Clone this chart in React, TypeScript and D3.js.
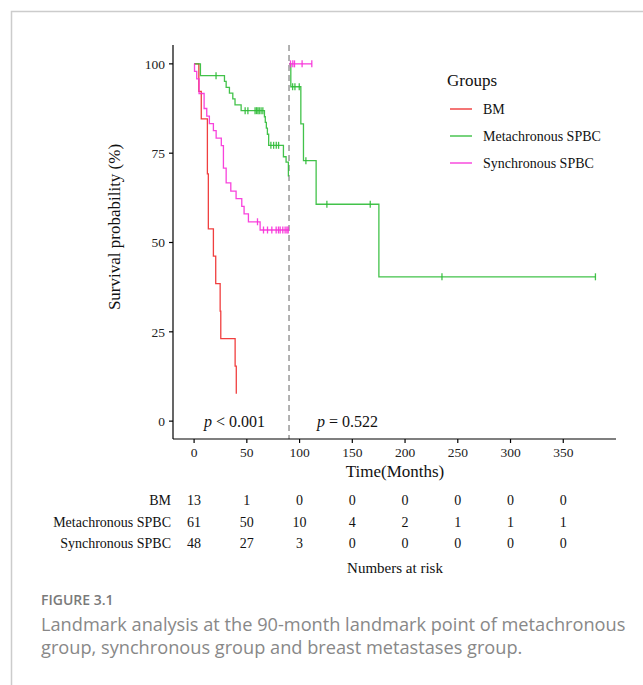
import React from 'react';
import * as d3 from 'd3';

// before the 90 month landmark
const bmTime = [0, 4.5, 6.8, 12.6, 13.5, 18.3, 20.5, 24.7, 25.3, 38.9, 40];
const bmSurv = [100, 92.3, 84.6, 69.2, 53.8, 46.2, 38.5, 30.8, 23.1, 15.4, 7.7];
const bmCens: number[] = [];

const metaTime1 = [0, 6, 28.8, 30.4, 33.5, 36.7, 38.8, 44.6, 66.7, 67.5, 68.5, 69.5, 70.7, 84.7, 87.2, 88, 89.4];
const metaSurv1 = [100, 96.7, 95.1, 93.4, 91.8, 90.2, 88.5, 86.9, 85.2, 83.6, 82.0, 80.3, 77.2, 74.0, 72.5, 72.5, 68.5];
const metaCens1 = [20.8, 48.4, 51, 57.8, 59.2, 60.5, 61.8, 63.5, 65.2, 72.8, 75.4, 77.9, 80.1];

const syncTime1 = [0, 0.4, 2.5, 4.7, 9.5, 12, 14.5, 18.3, 20.9, 25.8, 27.8, 30.4, 34.8, 39.8, 45.2, 47.4, 51.5, 62.6, 90];
const syncSurv1 = [100, 97.9, 95.8, 91.7, 87.5, 85.4, 83.3, 81.3, 79.2, 77.1, 70.8, 66.7, 64.4, 62.3, 60.1, 58.0, 55.8, 53.5, 53.5];
const syncCens1 = [60.1, 65.8, 69.6, 73.7, 77.8, 80, 81.6, 84.1, 86.3, 88, 89.2];

// after the landmark
const metaTime2 = [90, 91.7, 101.2, 103.7, 115.7, 175.2, 380.5];
const metaSurv2 = [100, 93.6, 83.2, 72.9, 60.7, 40.4, 40.4];
const metaCens2 = [93.4, 95.6, 99.7, 106, 125.9, 167, 235, 380.5];

const syncTime2 = [90, 111.6];
const syncSurv2 = [100, 100];
const syncCens2 = [91.4, 93.6, 95.2, 102.4, 111.6];

const groups = ['BM', 'Metachronous SPBC', 'Synchronous SPBC'];
const colors = ['#ee2a2a', '#2dbb36', '#f72fd8'];

const xTicks = [0, 50, 100, 150, 200, 250, 300, 350];
const yTicks = [0, 25, 50, 75, 100];
const riskTimes = [0, 50, 100, 150, 200, 250, 300, 350];
const riskBM = [13, 1, 0, 0, 0, 0, 0, 0];
const riskMeta = [61, 50, 10, 4, 2, 1, 1, 1];
const riskSync = [48, 27, 3, 0, 0, 0, 0, 0];

const serif = '"Liberation Serif", "Times New Roman", serif';
const sans = '"Open Sans", "Noto Sans", sans-serif';

const x = d3.scaleLinear().domain([-20, 400]).range([173, 616]);
const y = d3.scaleLinear().domain([-5, 105]).range([439, 46]);

const line = d3.line<[number, number]>()
  .x(d => x(d[0]))
  .y(d => y(d[1]))
  .curve(d3.curveStepAfter);

const survAt = (times: number[], surv: number[], t: number) => {
  let v = surv[0];
  for (let i = 0; i < times.length; i++) if (times[i] <= t) v = surv[i];
  return v;
};

const curves = [
  { time: bmTime, surv: bmSurv, cens: bmCens, g: 0 },
  { time: metaTime1, surv: metaSurv1, cens: metaCens1, g: 1 },
  { time: syncTime1, surv: syncSurv1, cens: syncCens1, g: 2 },
  { time: metaTime2, surv: metaSurv2, cens: metaCens2, g: 1 },
  { time: syncTime2, surv: syncSurv2, cens: syncCens2, g: 2 },
];

const riskRows = [riskBM, riskMeta, riskSync];
const riskY = [500, 522, 543];
const legendY = [109, 136, 163];

export default function App() {
  return (
    <svg width={643} height={685} style={{ position: 'absolute', left: 0, top: 0, background: '#fff' }}>
      {/* frame */}
      <path d="M11.5,685 V11.5 H643" fill="none" stroke="#cccccc" strokeWidth={1.5} />

      {/* landmark */}
      <line x1={x(90)} x2={x(90)} y1={45} y2={439} stroke="#999" strokeWidth={1.5} strokeDasharray="6,4" />

      {curves.map((c, i) => (
        <g key={i} stroke={colors[c.g]} fill="none" strokeWidth={1.3} strokeOpacity={0.9}>
          <path d={line(c.time.map((t, j) => [t, c.surv[j]] as [number, number])) || ''} />
          {c.cens.map((t, j) => {
            const cy = y(survAt(c.time, c.surv, t));
            return <line key={j} x1={x(t)} x2={x(t)} y1={cy - 3.5} y2={cy + 3.5} />;
          })}
        </g>
      ))}

      {/* axes */}
      <line x1={173} x2={173} y1={45} y2={439} stroke="#000" strokeWidth={1.2} />
      <line x1={173} x2={616} y1={439} y2={439} stroke="#000" strokeWidth={1.2} />
      {yTicks.map(t => (
        <g key={t}>
          <line x1={169} x2={173} y1={y(t)} y2={y(t)} stroke="#000" strokeWidth={1.2} />
          <text x={165} y={y(t)} dy="0.35em" textAnchor="end" fontFamily={serif} fontSize={13.5} fill="#222">{t}</text>
        </g>
      ))}
      {xTicks.map(t => (
        <g key={t}>
          <line x1={x(t)} x2={x(t)} y1={439} y2={443} stroke="#000" strokeWidth={1.2} />
          <text x={x(t)} y={452} dy="0.35em" textAnchor="middle" fontFamily={serif} fontSize={13.5} fill="#222">{t}</text>
        </g>
      ))}
      <text x={395} y={471} dy="0.35em" textAnchor="middle" fontFamily={serif} fontSize={17} fill="#111">Time(Months)</text>
      <text transform="translate(114,227) rotate(-90)" dy="0.35em" textAnchor="middle" fontFamily={serif} fontSize={17} fill="#111">Survival probability (%)</text>

      {/* p values */}
      <text x={204} y={421} dy="0.35em" fontFamily={serif} fontSize={16} fill="#111">
        <tspan fontStyle="italic">p</tspan> &lt; 0.001
      </text>
      <text x={317} y={421} dy="0.35em" fontFamily={serif} fontSize={16} fill="#111">
        <tspan fontStyle="italic">p</tspan> = 0.522
      </text>

      {/* legend */}
      <text x={447} y={80} dy="0.35em" fontFamily={serif} fontSize={17} fill="#111">Groups</text>
      {groups.map((g, i) => (
        <g key={g}>
          <line x1={450} x2={472} y1={legendY[i]} y2={legendY[i]} stroke={colors[i]} strokeWidth={1.3} />
          <text x={483} y={legendY[i]} dy="0.35em" fontFamily={serif} fontSize={14} fill="#111">{g}</text>
        </g>
      ))}

      {/* risk table */}
      {groups.map((g, i) => (
        <g key={g}>
          <text x={171} y={riskY[i]} dy="0.35em" textAnchor="end" fontFamily={serif} fontSize={14} fill="#111">{g}</text>
          {riskRows[i].map((v, j) => (
            <text key={j} x={x(riskTimes[j])} y={riskY[i]} dy="0.35em" textAnchor="middle" fontFamily={serif} fontSize={14} fill="#111">{v}</text>
          ))}
        </g>
      ))}
      <text x={395} y={568} dy="0.35em" textAnchor="middle" fontFamily={serif} fontSize={15} fill="#111">Numbers at risk</text>

      {/* caption */}
      <text x={41} y={605} fontFamily={sans} fontSize={14} fontWeight={600} fill="#7a7a7a">FIGURE 3.1</text>
      <text x={41} y={631} fontFamily={sans} fontSize={18.2} fill="#888">Landmark analysis at the 90-month landmark point of metachronous</text>
      <text x={41} y={654} fontFamily={sans} fontSize={18.2} fill="#888">group, synchronous group and breast metastases group.</text>
    </svg>
  );
}
